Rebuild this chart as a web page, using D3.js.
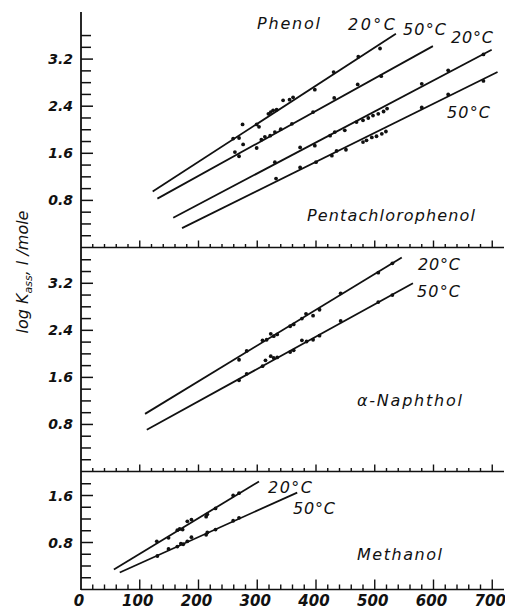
<!DOCTYPE html>
<html><head><meta charset="utf-8">
<script src="https://cdn.jsdelivr.net/npm/d3@7"></script>
<style>
body{margin:0;background:#fff}
svg text{font-family:"DejaVu Sans","Liberation Sans",sans-serif;font-style:italic;fill:#111}
</style></head><body>
<svg id="chart" width="505" height="612"></svg>
<script>
// ---------- data ----------
const xTickValues = [0, 100, 200, 300, 400, 500, 600, 700];
const yTickLabels = ["0.8", "1.6", "2.4", "3.2"];

// Phenol / Pentachlorophenol panel
const phenol20X = [259, 269, 275, 299, 303, 319, 323, 327, 333, 344, 355, 361, 398, 430, 472, 509];
const phenol20Y = [1.85, 1.86, 2.09, 2.09, 2.05, 2.27, 2.30, 2.33, 2.34, 2.50, 2.51, 2.55, 2.68, 2.98, 3.24, 3.38];
const phenol50X = [262, 269, 276, 299, 307, 313, 322, 330, 340, 359, 395, 431, 471, 511];
const phenol50Y = [1.62, 1.55, 1.75, 1.69, 1.83, 1.88, 1.90, 1.96, 2.01, 2.10, 2.30, 2.54, 2.77, 2.91];
const penta20X = [330, 373, 398, 424, 432, 449, 469, 480, 489, 497, 506, 515, 521, 580, 625, 685];
const penta20Y = [1.45, 1.70, 1.73, 1.90, 1.96, 1.99, 2.13, 2.16, 2.20, 2.24, 2.27, 2.31, 2.36, 2.78, 3.01, 3.28];
const penta50X = [332, 373, 400, 427, 435, 451, 480, 486, 495, 503, 512, 519, 580, 625, 685];
const penta50Y = [1.17, 1.36, 1.45, 1.56, 1.64, 1.66, 1.79, 1.82, 1.87, 1.89, 1.93, 1.97, 2.38, 2.60, 2.83];
const phenol20LineX = [122, 536], phenol20LineY = [0.95, 3.63];
const phenol50LineX = [130, 599], phenol50LineY = [0.83, 3.42];
const penta20LineX = [157, 699], penta20LineY = [0.505, 3.36];
const penta50LineX = [172, 709], penta50LineY = [0.33, 2.98];

// alpha-Naphthol panel
const naph20X = [269, 282, 309, 316, 323, 328, 334, 356, 362, 376, 383, 395, 406, 442, 506, 530];
const naph20Y = [1.90, 2.05, 2.23, 2.24, 2.34, 2.30, 2.33, 2.47, 2.50, 2.60, 2.68, 2.65, 2.75, 3.03, 3.38, 3.54];
const naph50X = [269, 282, 309, 314, 323, 328, 334, 356, 362, 376, 384, 395, 406, 442, 506, 530];
const naph50Y = [1.55, 1.66, 1.79, 1.89, 1.96, 1.93, 1.94, 2.03, 2.06, 2.23, 2.21, 2.24, 2.31, 2.56, 2.88, 3.00];
const naph20LineX = [109, 546], naph20LineY = [0.98, 3.64];
const naph50LineX = [112, 565], naph50LineY = [0.71, 3.20];

// Methanol panel
const meth20X = [129, 149, 164, 168, 173, 181, 188, 213, 215, 229, 259, 269];
const meth20Y = [0.82, 0.88, 1.01, 1.03, 1.02, 1.16, 1.19, 1.24, 1.28, 1.38, 1.60, 1.64];
const meth50X = [130, 149, 164, 170, 174, 181, 188, 213, 215, 229, 259, 269];
const meth50Y = [0.57, 0.69, 0.73, 0.78, 0.77, 0.82, 0.89, 0.93, 0.97, 1.02, 1.17, 1.22];
const meth20LineX = [56, 303], meth20LineY = [0.34, 1.84];
const meth50LineX = [66, 368], meth50LineY = [0.29, 1.65];

// ---------- layout ----------
const svg = d3.select("#chart");
const x = d3.scaleLinear().domain([0, 720]).range([81, 504]);

const panelDefs = [
  { yDomain: [0, 4.0], yRange: [247.5, 12], tickMax: 3.6,
    series: [[phenol20X, phenol20Y, phenol20LineX, phenol20LineY],
             [phenol50X, phenol50Y, phenol50LineX, phenol50LineY],
             [penta20X, penta20Y, penta20LineX, penta20LineY],
             [penta50X, penta50Y, penta50LineX, penta50LineY]] },
  { yDomain: [0, 3.8], yRange: [471.5, 248], tickMax: 3.6,
    series: [[naph20X, naph20Y, naph20LineX, naph20LineY],
             [naph50X, naph50Y, naph50LineX, naph50LineY]] },
  { yDomain: [0, 2.0], yRange: [589.5, 472], tickMax: 1.8,
    series: [[meth20X, meth20Y, meth20LineX, meth20LineY],
             [meth50X, meth50Y, meth50LineX, meth50LineY]] }
];

const ink = "#111";
const line = d3.line();

panelDefs.forEach((p, pi) => {
  const y = d3.scaleLinear().domain(p.yDomain).range(p.yRange);
  const g = svg.append("g");

  // y ticks (every 0.2, longer at labelled 0.8 steps)
  const yt = d3.range(1, Math.round(p.tickMax / 0.2) + 1).map(i => +(i * 0.2).toFixed(1));
  g.selectAll("line.yt").data(yt).join("line")
    .attr("x1", x(0)).attr("x2", d => x(0) + ((Math.round(d * 10) % 8 === 0) ? 12 : 10))
    .attr("y1", d => y(d)).attr("y2", d => y(d))
    .attr("stroke", ink).attr("stroke-width", 1.5);
  const labVals = yTickLabels.map(Number).filter(v => v <= p.tickMax);
  g.selectAll("text.yl").data(labVals).join("text")
    .attr("x", 73).attr("y", d => y(d)).attr("dy", "0.36em")
    .attr("text-anchor", "end")
    .style("font-size", "14px").style("font-weight", "bold")
    .text(d => yTickLabels[yTickLabels.map(Number).indexOf(d)]);

  // horizontal baseline of the panel with upward ticks
  const base = p.yRange[0];
  g.append("line").attr("x1", x(0)).attr("x2", 504).attr("y1", base).attr("y2", base)
    .attr("stroke", ink).attr("stroke-width", 1.6);
  const xt = d3.range(1, 36).map(i => i * 20);
  const bottom = pi === 2;
  g.selectAll("line.xt").data(xt).join("line")
    .attr("x1", d => x(d)).attr("x2", d => x(d))
    .attr("y1", base)
    .attr("y2", d => base - (d % 100 === 0 ? (bottom ? 10 : 7) : (bottom ? 5 : 3.5)))
    .attr("stroke", ink).attr("stroke-width", 1.4);

  // fitted lines and data points
  p.series.forEach(([sx, sy, lx, ly]) => {
    g.append("path")
      .attr("d", line(lx.map((v, i) => [x(v), y(ly[i])])))
      .attr("fill", "none").attr("stroke", ink).attr("stroke-width", 1.8);
    g.selectAll(null).data(sx.map((v, i) => [v, sy[i]])).join("circle")
      .attr("cx", d => x(d[0])).attr("cy", d => y(d[1])).attr("r", 1.9)
      .attr("fill", ink);
  });
});

// y axis line
svg.append("line").attr("x1", x(0)).attr("x2", x(0)).attr("y1", 12).attr("y2", 590)
  .attr("stroke", ink).attr("stroke-width", 1.8);

// x tick labels
svg.selectAll("text.xl").data(xTickValues).join("text")
  .attr("x", d => x(d) - 2).attr("y", 606)
  .attr("text-anchor", "middle")
  .style("font-size", "15px").style("font-weight", "bold")
  .text(d => d);

// y axis title
const yt = svg.append("text")
  .attr("transform", "translate(28,272) rotate(-90)")
  .attr("text-anchor", "middle")
  .style("font-size", "16px");
yt.append("tspan").text("log K");
yt.append("tspan").attr("dy", 4).style("font-size", "11px").text("ass");
yt.append("tspan").attr("dy", -4).text(",  l /mole");

// annotations
const notes = [
  ["Phenol", 257, 29, 63],
  ["20°C", 348, 30, 47],
  ["50°C", 403, 35, 43],
  ["20°C", 451, 43, 42],
  ["50°C", 447, 118, 43],
  ["Pentachlorophenol", 307, 221, 168],
  ["20°C", 418, 270, 42],
  ["50°C", 417, 297, 43],
  ["α-Naphthol", 357, 406, 105],
  ["20°C", 268, 493, 44],
  ["50°C", 293, 514, 42],
  ["Methanol", 357, 560, 85]
];
svg.selectAll("text.note").data(notes).join("text")
  .attr("x", d => d[1]).attr("y", d => d[2])
  .attr("textLength", d => d[3]).attr("lengthAdjust", "spacing")
  .style("font-size", "16px")
  .text(d => d[0]);
</script>
</body></html>
